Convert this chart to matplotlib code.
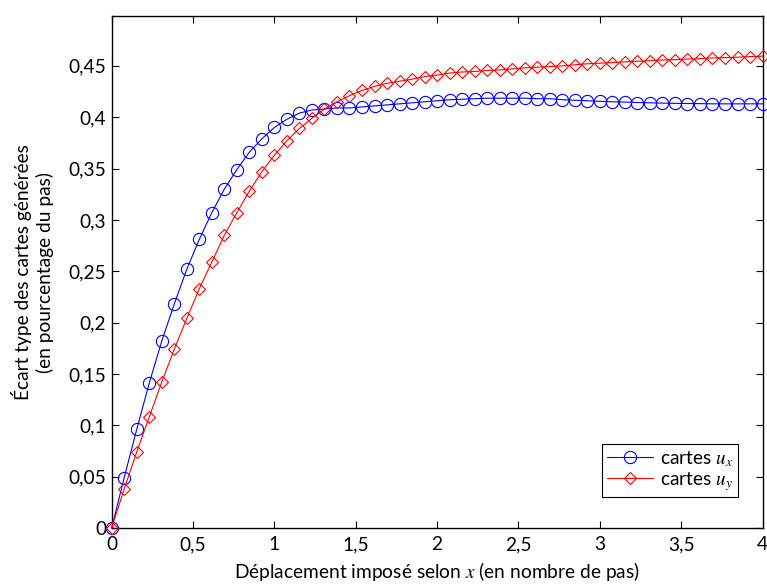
import numpy as np
import matplotlib
matplotlib.use('Agg')
import matplotlib.pyplot as plt

# Data (53 points, x step = 4/52)
N_POINTS = 53
X_MAX = 4.0

ux_values = [0.0, 0.049, 0.096, 0.141, 0.182, 0.218, 0.252, 0.281, 0.307, 0.330,
             0.349, 0.366, 0.379, 0.390, 0.398, 0.404, 0.407, 0.408, 0.409, 0.409,
             0.410, 0.411, 0.412, 0.413, 0.414, 0.415, 0.416, 0.417, 0.4175, 0.418,
             0.4185, 0.4185, 0.4185, 0.4185, 0.418, 0.418, 0.417, 0.4165, 0.416, 0.4155,
             0.415, 0.4147, 0.4143, 0.414, 0.4137, 0.4135, 0.4133, 0.4132, 0.413, 0.413,
             0.413, 0.413, 0.413]

uy_values = [0.0, 0.038, 0.074, 0.108, 0.142, 0.174, 0.204, 0.233, 0.259, 0.285,
             0.307, 0.328, 0.347, 0.363, 0.377, 0.389, 0.399, 0.408, 0.415, 0.421,
             0.426, 0.430, 0.433, 0.435, 0.437, 0.4395, 0.441, 0.443, 0.444, 0.4445,
             0.4455, 0.446, 0.447, 0.448, 0.4487, 0.4493, 0.450, 0.451, 0.452, 0.4526,
             0.4532, 0.4539, 0.4545, 0.455, 0.4557, 0.456, 0.4567, 0.457, 0.4577, 0.458,
             0.4584, 0.459, 0.4594]

x_ticks = [0, 0.5, 1, 1.5, 2, 2.5, 3, 3.5, 4]
y_ticks = [0, 0.05, 0.1, 0.15, 0.2, 0.25, 0.3, 0.35, 0.4, 0.45]

FONT = 'Lato'
FONT_SIZE = 13.8

plt.rcParams['font.family'] = [FONT, 'DejaVu Sans']
plt.rcParams['mathtext.fontset'] = 'stix'


def fr(v):
    """Format a tick with a decimal comma, MATLAB style."""
    s = f'{v:g}'
    return s.replace('.', ',')


x = np.arange(N_POINTS) * X_MAX / (N_POINTS - 1)

fig = plt.figure(figsize=(7.67, 5.85), dpi=100)
ax = fig.add_axes([0.1456, 0.0974, 0.8486, 0.8752])

ax.plot(x, ux_values, color='#0000ff', lw=0.8, marker='o', ms=8.8,
        mfc='none', mec='#0000ff', mew=0.8, label=r'cartes $u_x$', clip_on=False, zorder=3)
ax.plot(x, uy_values, color='#ff0000', lw=0.8, marker='D', ms=6.6,
        mfc='none', mec='#ff0000', mew=0.8, label=r'cartes $u_y$', clip_on=False, zorder=3)

ax.set_xlim(0, 4)
ax.set_ylim(0, 0.4985)
ax.set_xticks(x_ticks)
ax.set_yticks(y_ticks)
ax.set_xticklabels([fr(v) for v in x_ticks], fontsize=FONT_SIZE)
ax.set_yticklabels([fr(v) for v in y_ticks], fontsize=FONT_SIZE)
ax.tick_params(axis='x', pad=6)
ax.tick_params(axis='y', pad=4)
ax.tick_params(direction='in', length=5, width=0.8, top=True, right=True)
for sp in ax.spines.values():
    sp.set_linewidth(1.0)
    sp.set_color('black')

ax.set_xlabel(r'Déplacement imposé selon $x$ (en nombre de pas)', fontsize=FONT_SIZE, labelpad=5)
ax.set_ylabel('Écart type des cartes générées\n(en pourcentage du pas)',
              fontsize=FONT_SIZE, labelpad=10, linespacing=1.3)

leg = ax.legend(loc='lower right', bbox_to_anchor=(0.962, 0.06), fontsize=FONT_SIZE,
                fancybox=False, framealpha=1, edgecolor='black', handlelength=2.4,
                borderpad=0.25, labelspacing=0.05, handletextpad=0.35, borderaxespad=0)
leg.get_frame().set_linewidth(0.8)
leg.set_zorder(5)

fig.savefig('out.png', dpi=100)
